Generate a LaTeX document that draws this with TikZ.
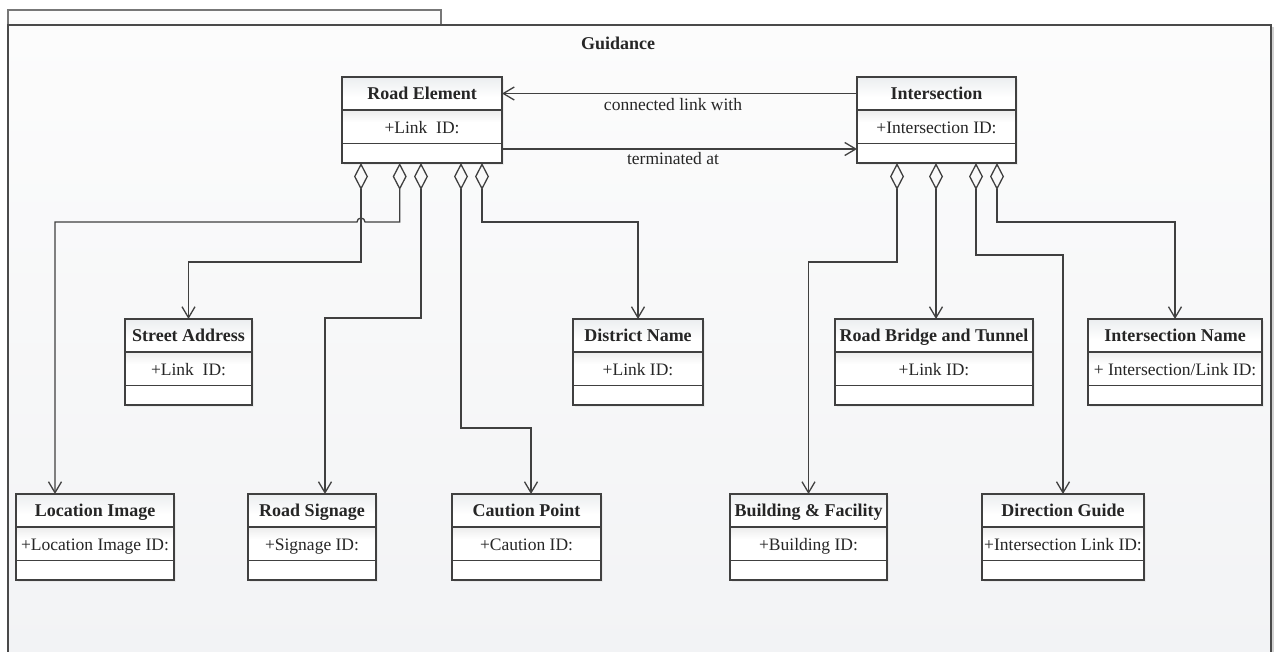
\documentclass[tikz,border=0pt]{standalone}
\usepackage{fontspec}
\setmainfont{Liberation Serif}
\usetikzlibrary{arrows.meta,calc,shadows}

\definecolor{linec}{HTML}{404040}
\definecolor{framec}{HTML}{4A4A4A}
\definecolor{bgtop}{HTML}{FCFCFC}
\definecolor{bgbot}{HTML}{F2F3F5}
\definecolor{titletop}{HTML}{ECEEF0}
\definecolor{attrtop}{HTML}{EDEDED}

\tikzset{
  classbox/.style={draw=linec, line width=1.3pt, fill=white, inner sep=0pt, outer sep=0pt,
    drop shadow={shadow xshift=2pt, shadow yshift=-2pt, fill=black!12}},
  classline/.style={draw=linec, line width=1.3pt},
  titletext/.style={font=\fontsize{18}{20}\selectfont\bfseries, text=black!85, inner sep=0pt, anchor=base},
  attrtext/.style={font=\fontsize{17.5}{20}\selectfont, text=black!85, inner sep=0pt, anchor=base},
  labeltext/.style={font=\fontsize{17.5}{20}\selectfont, text=black!85, inner sep=0pt, anchor=base},
  agg/.style={draw=linec, line width=1.3pt,
    {Diamond[open, length=27pt, width=14pt, line width=1.3pt]}-{Straight Barb[length=11pt, width=13pt, line width=1.3pt]}},
  assoc/.style={draw=linec, line width=1.3pt, -{Straight Barb[length=11pt, width=13pt, line width=1.3pt]}},
}

% class box: name, left x, right x, top y (downwards), title, attribute
\newcommand\umlclass[6]{%
  \node[classbox, anchor=north west, minimum width={#3-#2}, minimum height=86] (#1) at (#2,-#4) {};
  \shade[top color=titletop, bottom color=white]
    ($(#1.north west)+(0.6,-0.6)$) rectangle ($(#1.north east)+(-0.6,-20)$);
  \shade[top color=attrtop, bottom color=white]
    ($(#1.north west)+(0.6,-33.6)$) rectangle ($(#1.north east)+(-0.6,-45)$);
  \draw[classline] ($(#1.north west)+(0,-33)$) -- ($(#1.north east)+(0,-33)$);
  \draw[classline] ($(#1.north west)+(0,-66.3)$) -- ($(#1.north east)+(0,-66.3)$);
  \draw[classline] (#1.north west) rectangle (#1.south east);
  \node[titletext] (#1-t) at ($(#1.north)+(0,-22.5)$) {#5};
  \node[attrtext] (#1-a) at ($(#1.north)+(0,-56)$) {#6};
}

\begin{document}
\begin{tikzpicture}[x=1pt, y=1pt]
  \useasboundingbox (0,0) rectangle (1274,-651);

  % package frame with its tab
  \fill[black!18] (1268,-27) rectangle (1274,-660);
  \shade[top color=bgtop, bottom color=bgbot] (8,-25) rectangle (1271,-660);
  \fill[bgtop] (8,-10) rectangle (441,-25);
  \draw[framec!75, line width=1.3pt] (8,-25) -- (8,-10) -- (441,-10) -- (441,-25);
  \draw[framec, line width=1.5pt] (8,-660) -- (8,-25) -- (1271,-25) -- (1271,-660);
  \node[titletext] (pkg) at (618,-49) {Guidance};

  % classes
  \umlclass{re}{342}{502}{77}{Road Element}{+Link\ \ ID:}
  \umlclass{in}{857}{1016}{77}{Intersection}{+Intersection ID:}
  \umlclass{sa}{125}{252}{319}{Street Address}{+Link\ \ ID:}
  \umlclass{dn}{573}{703}{319}{District Name}{+Link ID:}
  \umlclass{rbt}{835}{1033}{319}{Road Bridge and Tunnel}{+Link ID:}
  \umlclass{ina}{1088}{1262}{319}{Intersection Name}{+ Intersection/Link ID:}
  \umlclass{li}{16}{174}{494}{Location Image}{+Location Image ID:}
  \umlclass{rs}{248}{376}{494}{Road Signage}{+Signage ID:}
  \umlclass{cp}{452}{601}{494}{Caution Point}{+Caution ID:}
  \umlclass{bf}{730}{887}{494}{Building \& Facility}{+Building ID:}
  \umlclass{dg}{982}{1144}{494}{Direction Guide}{+Intersection Link ID:}

  % associations between road element and intersection
  \draw[assoc] ($(in.north west)+(0,-16.5)$) -- ($(re.north east)+(0,-16.5)$);
  \draw[assoc] ($(re.north east)+(0,-72)$) -- ($(in.north west)+(0,-72)$);
  \node[labeltext] (lab1) at (673,-110) {connected link with};
  \node[labeltext] (lab2) at (673,-164) {terminated at};

  % aggregation ends on the road element
  \coordinate (p1) at ($(re.south west)+(19,0)$);
  \coordinate (p2) at ($(re.south west)+(57.7,0)$);
  \coordinate (p3) at ($(re.south west)+(79,0)$);
  \coordinate (p4) at ($(re.south west)+(119,0)$);
  \coordinate (p5) at ($(re.south west)+(140,0)$);
  % aggregation ends on the intersection
  \coordinate (q1) at ($(in.south west)+(40,0)$);
  \coordinate (q2) at ($(in.south west)+(79,0)$);
  \coordinate (q3) at ($(in.south west)+(119,0)$);
  \coordinate (q4) at ($(in.south west)+(140,0)$);

  \draw[agg] (p1) -- ++(0,-99) -| (sa.north);
  \draw[agg] (p2) -- ++(0,-59) -- ++(-34.7,0) arc[start angle=0, end angle=180, radius=4]
    -| ($(li.north west)+(39,0)$);
  \draw[agg] (p3) -- ++(0,-155) -| ($(rs.north west)+(77,0)$);
  \draw[agg] (p4) -- ++(0,-265) -| ($(cp.north west)+(79,0)$);
  \draw[agg] (p5) -- ++(0,-59) -| (dn.north);

  \draw[agg] (q1) -- ++(0,-99) -| (bf.north);
  \draw[agg] (q2) -- (q2 |- rbt.north);
  \draw[agg] (q3) -- ++(0,-92) -| (dg.north);
  \draw[agg] (q4) -- ++(0,-59) -| (ina.north);
\end{tikzpicture}
\end{document}
